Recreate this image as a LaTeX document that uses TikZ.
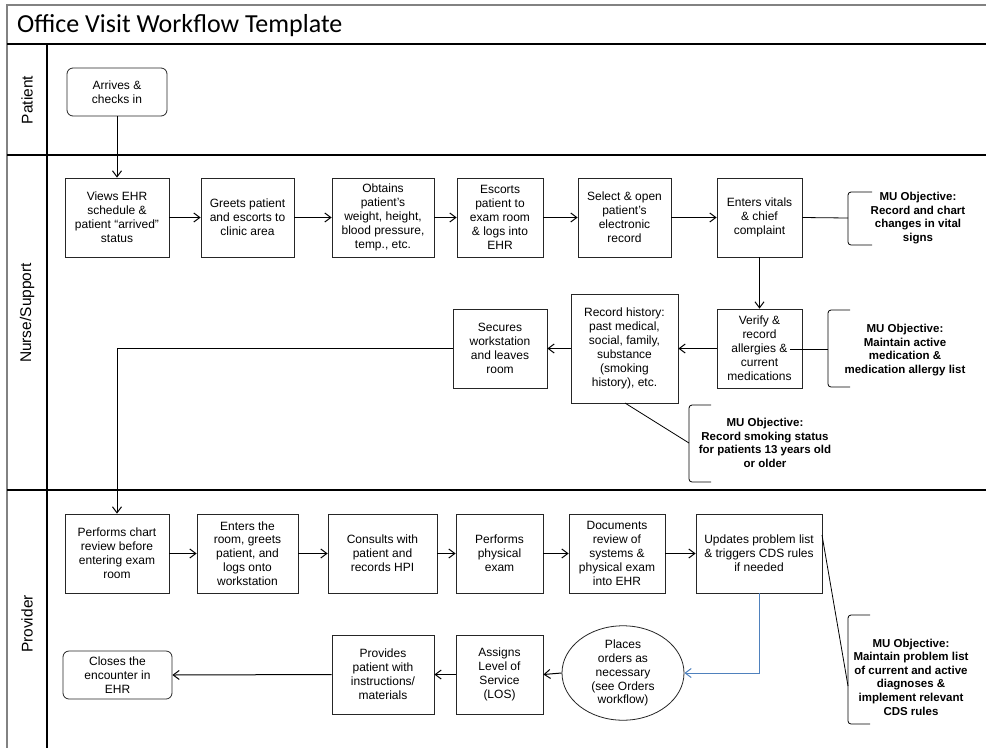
\documentclass[tikz,border=0pt]{standalone}
\usepackage{fontspec}
\setmainfont{Liberation Sans}
\newfontfamily\calibrifont{Carlito}
\usetikzlibrary{arrows.meta,shapes.geometric,calc}
\definecolor{framegray}{RGB}{130,130,130}
\definecolor{linkblue}{RGB}{79,129,189}
\begin{document}
\begin{tikzpicture}[x=1pt,y=-1pt,
  stepbox/.style={draw=black!85,line width=0.8pt,rectangle,inner sep=1pt,align=center,
    font=\fontsize{12}{13.9}\selectfont,minimum height=79pt},
  roundbox/.style={stepbox,rounded corners=6pt,minimum height=48pt},
  ovalbox/.style={draw=black!85,line width=0.8pt,ellipse,inner sep=0pt,align=center,
    font=\fontsize{12}{13.9}\selectfont,minimum width=122pt,minimum height=90pt},
  mutext/.style={align=center,inner sep=0pt,font=\fontsize{11.5}{13.6}\selectfont\bfseries},
  flow/.style={draw=black,line width=1pt,-{Straight Barb[length=6pt,width=9pt]}},
  plain/.style={draw=black,line width=0.8pt},
  bluelink/.style={draw=linkblue,line width=1pt,-{Straight Barb[length=6pt,width=9pt]}},
  bracket/.style={draw=black,line width=0.8pt,rounded corners=3pt},
  lanelabel/.style={rotate=90,font=\fontsize{15.5}{18}\selectfont,inner sep=0pt},
  lane/.style={draw=black,line width=1.3pt}
]
\useasboundingbox (0,0) rectangle (986,748);
\fill[white] (0,0) rectangle (986,748);
% frame
\draw[framegray,line width=1.5pt] (986,5) -- (7,5) -- (7,748);
\draw[lane] (7,44) -- (986,44);
\draw[lane] (47,44) -- (47,748);
\draw[lane] (7,155) -- (986,155);
\draw[lane] (7,490) -- (986,490);
\node[anchor=west,inner sep=0pt,font=\calibrifont\fontsize{26}{30}\selectfont] (title) at (17,26) {Office Visit Workflow Template};
\node[lanelabel] (lpatient) at (27,100) {Patient};
\node[lanelabel] (lnurse) at (27,313) {Nurse/Support};
\node[lanelabel] (lprovider) at (27,624) {Provider};

% patient lane
\node[roundbox,minimum width=100pt] (arrive) at (117,92) {Arrives \&\\checks in};

% nurse lane row 1
\node[stepbox,minimum width=104pt] (views) at (117,217.5) {Views EHR\\schedule \&\\patient “arrived”\\status};
\node[stepbox,minimum width=93pt] (greets) at (247.5,217.5) {Greets patient\\and escorts to\\clinic area};
\node[stepbox,minimum width=102pt] (obtains) at (383,217.5) {Obtains\\patient’s\\weight, height,\\blood pressure,\\temp., etc.};
\node[stepbox,minimum width=86pt] (escorts) at (500,217.5) {Escorts\\patient to\\exam room\\\& logs into\\EHR};
\node[stepbox,minimum width=93pt] (select) at (624.5,217.5) {Select \& open\\patient’s\\electronic\\record};
\node[stepbox,minimum width=85pt] (vitals) at (759.5,217.5) {Enters vitals\\\& chief\\complaint};

% nurse lane row 2
\node[stepbox,minimum width=85pt] (verify) at (759.5,348.5) {Verify \&\\record\\allergies \&\\current\\medications};
\node[stepbox,minimum width=107pt,minimum height=109pt] (history) at (624.5,348.5) {Record history:\\past medical,\\social, family,\\substance\\(smoking\\history), etc.};
\node[stepbox,minimum width=94pt] (secures) at (500,348.5) {Secures\\workstation\\and leaves\\room};

% provider row 1
\node[stepbox,minimum width=104pt] (chart) at (117,553.5) {Performs chart\\review before\\entering exam\\room};
\node[stepbox,minimum width=101pt] (enters) at (247.5,553.5) {Enters the\\room, greets\\patient, and\\logs onto\\workstation};
\node[stepbox,minimum width=109pt] (consults) at (382.5,553.5) {Consults with\\patient and\\records HPI};
\node[stepbox,minimum width=87pt] (physical) at (499.5,553.5) {Performs\\physical\\exam};
\node[stepbox,minimum width=96pt] (documents) at (617,553.5) {Documents\\review of\\systems \&\\physical exam\\into EHR};
\node[stepbox,minimum width=126pt] (updates) at (759,553.5) {Updates problem list\\\& triggers CDS rules\\if needed};

% provider row 2
\node[ovalbox] (orders) at (623,673) {Places\\orders as\\necessary\\(see Orders\\workflow)};
\node[stepbox,minimum width=87pt] (assigns) at (499.5,674.5) {Assigns\\Level of\\Service\\(LOS)};
\node[stepbox,minimum width=102pt] (provides) at (383,674.5) {Provides\\patient with\\instructions/\\materials};
\node[roundbox,minimum width=109pt] (closes) at (117.5,675) {Closes the\\encounter in\\EHR};

% MU objectives
\node[mutext] (mu1) at (918,218) {MU Objective:\\Record and chart\\changes in vital\\signs};
\node[mutext] (mu2) at (905,350) {MU Objective:\\Maintain active\\medication \&\\medication allergy list};
\node[mutext] (mu3) at (765,443) {MU Objective:\\Record smoking status\\for patients 13 years old\\or older};
\node[mutext] (mu4) at (911,677) {MU Objective:\\Maintain problem list\\of current and active\\diagnoses \&\\implement relevant\\CDS rules};

\draw[bracket] (872,192) -- (848,192) -- (848,245) -- (872,245);
\draw[bracket] (850,310) -- (828,310) -- (828,387) -- (850,387);
\draw[bracket] (711,405) -- (689,405) -- (689,482) -- (711,482);
\draw[bracket] (870,615) -- (848,615) -- (848,724) -- (870,724);
\coordinate (b1) at (848,218);
\coordinate (b2) at (828,349);
\coordinate (b3) at (689,443);
\coordinate (b4) at (848,686);
\coordinate (v2) at (790,349);
\coordinate (h3) at (625,403);
\coordinate (u4) at (822,535);

% connectors
\draw[flow] (arrive.south) -- (views.north);
\draw[flow] (views.east) -- (greets.west);
\draw[flow] (greets.east) -- (obtains.west);
\draw[flow] (obtains.east) -- (escorts.west);
\draw[flow] (escorts.east) -- (select.west);
\draw[flow] (select.east) -- (vitals.west);
\draw[plain] (vitals.east) -- (b1);
\draw[flow] (vitals.south) -- (verify.north);
\draw[flow] (verify.west) -- (history.east);
\draw[flow] (history.west) -- (secures.east);
\draw[plain] (b2) -- (v2);
\draw[plain] (h3) -- (b3);
\draw[flow] (secures.west) -| (chart.north);
\draw[flow] (chart.east) -- (enters.west);
\draw[flow] (enters.east) -- (consults.west);
\draw[flow] (consults.east) -- (physical.west);
\draw[flow] (physical.east) -- (documents.west);
\draw[flow] (documents.east) -- (updates.west);
\draw[plain] (u4) -- (b4);
\draw[bluelink] (updates.south) |- (orders.east);
\draw[flow] (orders.west) -- (assigns.east);
\draw[flow] (assigns.west) -- (provides.east);
\draw[flow] (provides.west) -- (closes.east);
\end{tikzpicture}
\end{document}
